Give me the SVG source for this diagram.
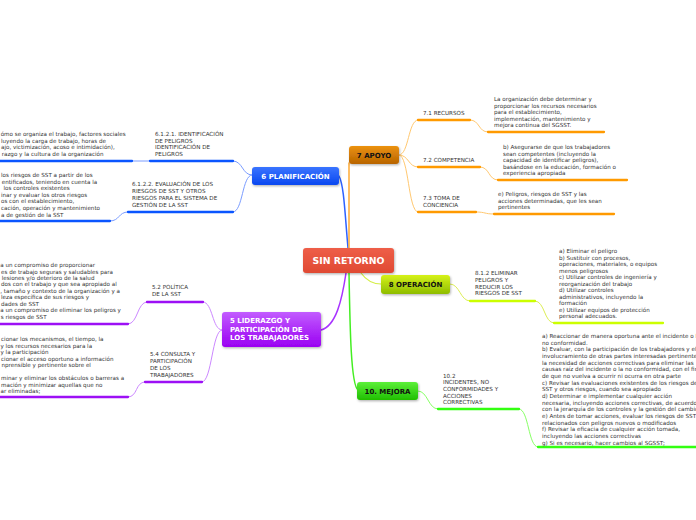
<svg xmlns="http://www.w3.org/2000/svg" width="696" height="520" viewBox="0 0 696 520">
<defs>
<linearGradient id="gRed" x1="0" y1="0" x2="0" y2="1"><stop offset="0" stop-color="#EE5E48"/><stop offset="1" stop-color="#E04A33"/></linearGradient>
<linearGradient id="gOrange" x1="0" y1="0" x2="0" y2="1"><stop offset="0" stop-color="#EC9210"/><stop offset="1" stop-color="#B86400"/></linearGradient>
<linearGradient id="gBlue" x1="0" y1="0" x2="0" y2="1"><stop offset="0" stop-color="#3A74FF"/><stop offset="1" stop-color="#0A47F0"/></linearGradient>
<linearGradient id="gYellow" x1="0" y1="0" x2="0" y2="1"><stop offset="0" stop-color="#D6F21A"/><stop offset="1" stop-color="#8EBC00"/></linearGradient>
<linearGradient id="gPurple" x1="0" y1="0" x2="0" y2="1"><stop offset="0" stop-color="#C25CFF"/><stop offset="1" stop-color="#9A00F2"/></linearGradient>
<linearGradient id="gGreen" x1="0" y1="0" x2="0" y2="1"><stop offset="0" stop-color="#5CF03A"/><stop offset="1" stop-color="#20BE00"/></linearGradient>
<filter id="sh" x="-20%" y="-30%" width="140%" height="170%"><feDropShadow dx="0.8" dy="1.2" stdDeviation="0.8" flood-color="#000" flood-opacity="0.3"/></filter>
</defs>
<style>
.t{font-family:"DejaVu Sans",Verdana,sans-serif;font-size:5.6px;fill:#333}
.nb{font-family:"DejaVu Sans",Verdana,sans-serif;font-weight:bold;font-size:7px}
.w{fill:#fff}.k{fill:#111}
.c{fill:none;stroke-linecap:round}
.ub{stroke:#0A55FF;stroke-width:2.3}.cb{stroke:#7A9CFF;stroke-width:1}
.uo{stroke:#FF9A00;stroke-width:2.3}.co{stroke:#FFC870;stroke-width:1}
.up{stroke:#9D10F5;stroke-width:2.3}.cp{stroke:#CC88FF;stroke-width:1}
.uy{stroke:#CCFF00;stroke-width:2.3}.cy{stroke:#DDEE55;stroke-width:1}
.ug{stroke:#33FF11;stroke-width:2.3}.cg{stroke:#88FF66;stroke-width:1}
</style>
<rect width="696" height="520" fill="#fff"/>

<g id="connectors">
<path class="c" d="M348,248 C345,215 344,185 339,176" stroke="#2E62FF" stroke-width="1.5"/>
<path class="c" d="M349,248 L349,163" stroke="#FFAA33" stroke-width="1.5"/>
<path class="c" d="M346,273 C342,300 336,326 321,330" stroke="#A833FF" stroke-width="1.5"/>
<path class="c" d="M349,273 C350,330 351,385 358,390" stroke="#44EE22" stroke-width="1.5"/>
<path class="c" d="M361,273 C366,280 372,284 381,284" stroke="#D4EE44" stroke-width="1.2"/>

<path class="c co" d="M399,155 C409,155 408,120 418,120"/>
<path class="c co" d="M399,155 C409,155 408,167 418,167"/>
<path class="c co" d="M399,155 C409,155 408,212 418,212"/>
<path class="c co" d="M470,120 C480,120 478,132 488,132"/>
<path class="c co" d="M480,167 C490,167 488,180 498,180"/>
<path class="c co" d="M476,212 C486,212 484,214 494,214"/>

<path class="c cb" d="M252,175 C242,175 243,161 233,161"/>
<path class="c cb" d="M252,175 C242,175 243,212 233,212"/>
<path class="c cb" d="M150,161 L132,161"/>
<path class="c cb" d="M128,212 C118,212 120,221 110,221"/>

<path class="c cp" d="M222,330 C212,330 213,302 203,302"/>
<path class="c cp" d="M222,330 C212,330 212,382 202,382"/>
<path class="c cp" d="M147,302 C137,302 138,324 128,324"/>
<path class="c cp" d="M145,382 C135,382 138,397 128,397"/>

<path class="c cy" d="M450,284 C460,284 460,301 470,301"/>
<path class="c cy" d="M535,301 C545,301 544,323 554,323"/>

<path class="c cg" d="M418,391 C428,391 428,409 438,409"/>
<path class="c cg" d="M519,409 C529,409 528,447 538,447"/>
</g>

<g id="n-root"><rect x="303" y="248" width="91" height="25" rx="3" fill="url(#gRed)" filter="url(#sh)"/>
<text x="348.5" y="264" text-anchor="middle" style="font-family:'DejaVu Sans',Verdana,sans-serif;font-weight:bold;font-size:9.3px;fill:#fff">SIN RETORNO</text></g>

<g id="n-apoyo"><rect x="349" y="146" width="50" height="18" rx="3" fill="url(#gOrange)" filter="url(#sh)"/>
<text class="nb k" x="374" y="157.5" text-anchor="middle">7 APOYO</text></g>

<g id="n-plan"><rect x="252" y="167" width="87" height="18" rx="3" fill="url(#gBlue)" filter="url(#sh)"/>
<text class="nb w" x="295.5" y="178.5" text-anchor="middle">6 PLANIFICACIÓN</text></g>

<g id="n-oper"><rect x="381" y="275" width="69" height="19" rx="3" fill="url(#gYellow)" filter="url(#sh)"/>
<text class="nb k" x="415.5" y="287" text-anchor="middle">8 OPERACIÓN</text></g>

<g id="n-lider"><rect x="222" y="312" width="99" height="35" rx="3" fill="url(#gPurple)" filter="url(#sh)"/>
<text class="nb w" x="230" y="323">5 LIDERAZGO Y</text>
<text class="nb w" x="230" y="331.5">PARTICIPACIÓN DE</text>
<text class="nb w" x="230" y="340">LOS TRABAJADORES</text></g>

<g id="n-mejora"><rect x="357" y="382" width="61" height="18" rx="3" fill="url(#gGreen)" filter="url(#sh)"/>
<text class="nb k" x="387.5" y="394" text-anchor="middle">10. MEJORA</text></g>

<g id="n-71"><path class="c uo" d="M418,120 L470,120"/><text class="t" x="423" y="115">7.1 RECURSOS</text></g>
<g id="n-71t"><path class="c uo" d="M488,132 L604,132"/>
<text class="t" x="494" y="101">La organización debe determinar y</text>
<text class="t" x="494" y="107.5">proporcionar los recursos necesarios</text>
<text class="t" x="494" y="114">para el establecimiento,</text>
<text class="t" x="494" y="120.5">implementación, mantenimiento y</text>
<text class="t" x="494" y="127">mejora continua del SGSST.</text></g>

<g id="n-72"><path class="c uo" d="M418,167 L480,167"/><text class="t" x="423" y="162">7.2 COMPETENCIA</text></g>
<g id="n-72t"><path class="c uo" d="M498,180 L627,180"/>
<text class="t" x="503" y="149">b) Asegurarse de que los trabajadores</text>
<text class="t" x="503" y="155.5">sean competentes (incluyendo la</text>
<text class="t" x="503" y="162">capacidad de identificar peligros),</text>
<text class="t" x="503" y="168.5">basándose en la  educación, formación o</text>
<text class="t" x="503" y="175">experiencia apropiada</text></g>

<g id="n-73"><path class="c uo" d="M418,212 L476,212"/>
<text class="t" x="423" y="200">7.3 TOMA DE</text><text class="t" x="423" y="206.5">CONCIENCIA</text></g>
<g id="n-73t"><path class="c uo" d="M494,214 L614,214"/>
<text class="t" x="498" y="196">e) Peligros, riesgos de SST y las</text>
<text class="t" x="498" y="202.5">acciones determinadas, que les sean</text>
<text class="t" x="498" y="209">pertinentes</text></g>

<g id="n-6121"><path class="c ub" d="M150,161 L233,161"/>
<text class="t" x="155" y="136">6.1.2.1. IDENTIFICACIÓN</text>
<text class="t" x="155" y="142.5">DE PELIGROS</text>
<text class="t" x="155" y="149">IDENTIFICACIÓN DE</text>
<text class="t" x="155" y="155.5">PELIGROS</text></g>
<g id="n-6121t"><path class="c ub" d="M0,161 L132,161"/>
<text class="t" x="0.7" y="136">ómo se organiza el trabajo, factores sociales</text>
<text class="t" x="1" y="142.5">luyendo la carga de trabajo, horas de</text>
<text class="t" x="1" y="149">ajo, victimización, acoso e intimidación),</text>
<text class="t" x="1.7" y="155.5">razgo y la cultura de la organización</text></g>

<g id="n-6122"><path class="c ub" d="M128,212 L233,212"/>
<text class="t" x="132" y="186">6.1.2.2. EVALUACIÓN DE LOS</text>
<text class="t" x="132" y="193">RIESGOS DE SST Y OTROS</text>
<text class="t" x="132" y="200">RIESGOS PARA EL SISTEMA DE</text>
<text class="t" x="132" y="207">GESTIÓN DE LA SST</text></g>
<g id="n-6122t"><path class="c ub" d="M0,221 L110,221"/>
<text class="t" x="1" y="177">los riesgos de SST a partir de los</text>
<text class="t" x="1.7" y="183.6">entificados, teniendo en cuenta la</text>
<text class="t" x="3.5" y="190.2">los controles existentes</text>
<text class="t" x="1" y="196.8">inar y evaluar los otros riesgos</text>
<text class="t" x="1" y="203.4">os con el establecimiento,</text>
<text class="t" x="1" y="210">cación, operación y mantenimiento</text>
<text class="t" x="1" y="216.6">a de gestión de la SST</text></g>

<g id="n-52"><path class="c up" d="M147,302 L203,302"/>
<text class="t" x="152" y="289">5.2 POLÍTICA</text><text class="t" x="152" y="296">DE LA SST</text></g>
<g id="n-52t"><path class="c up" d="M0,324 L128,324"/>
<text class="t" x="0.3" y="267">a un compromiso de proporcionar</text>
<text class="t" x="1" y="273.5">es de trabajo seguras y saludables para</text>
<text class="t" x="1.7" y="279.9">lesiones y/o deterioro de la salud</text>
<text class="t" x="1" y="286.4">dos con el trabajo y que sea apropiado al</text>
<text class="t" x="0.3" y="292.8">, tamaño y contexto de la organización y a</text>
<text class="t" x="1" y="299.3">leza específica de sus riesgos y</text>
<text class="t" x="1" y="305.8">dades de SST</text>
<text class="t" x="0.3" y="312.2">a un compromiso de eliminar los peligros y</text>
<text class="t" x="0.7" y="318.7">s riesgos de SST</text></g>

<g id="n-54"><path class="c up" d="M145,382 L202,382"/>
<text class="t" x="150" y="356.3">5.4 CONSULTA Y</text>
<text class="t" x="150" y="363">PARTICIPACIÓN</text>
<text class="t" x="150" y="369.7">DE LOS</text>
<text class="t" x="150" y="376.7">TRABAJADORES</text></g>
<g id="n-54t"><path class="c up" d="M0,397 L128,397"/>
<text class="t" x="1" y="341">cionar los mecanismos, el tiempo, la</text>
<text class="t" x="0.5" y="347.5">y los recursos necesarios para la</text>
<text class="t" x="0.5" y="354">y la participación</text>
<text class="t" x="1" y="360.5">cionar el acceso oportuno a información</text>
<text class="t" x="1.5" y="367">nprensible y pertinente sobre el</text>
<text class="t" x="1" y="380">minar y eliminar los obstáculos o barreras a</text>
<text class="t" x="1" y="386.5">mación y minimizar aquellas que no</text>
<text class="t" x="0.5" y="393">ar eliminadas;</text></g>

<g id="n-812"><path class="c uy" d="M470,301 L535,301"/>
<text class="t" x="475" y="275.3">8.1.2 ELIMINAR</text>
<text class="t" x="475" y="282">PELIGROS Y</text>
<text class="t" x="475" y="288.7">REDUCIR LOS</text>
<text class="t" x="475" y="295">RIESGOS DE SST</text></g>
<g id="n-812t"><path class="c uy" d="M554,323 L663,323"/>
<text class="t" x="559" y="253">a) Eliminar el peligro</text>
<text class="t" x="559" y="259.5">b) Sustituir con procesos,</text>
<text class="t" x="559" y="266">operaciones, materiales, o equipos</text>
<text class="t" x="559" y="272.5">menos peligrosos</text>
<text class="t" x="559" y="279">c) Utilizar controles de ingeniería y</text>
<text class="t" x="559" y="285.5">reorganización del trabajo</text>
<text class="t" x="559" y="292">d) Utilizar controles</text>
<text class="t" x="559" y="298.5">administrativos, incluyendo la</text>
<text class="t" x="559" y="305">formación</text>
<text class="t" x="559" y="311.5">e) Utilizar equipos de protección</text>
<text class="t" x="559" y="318">personal adecuados.</text></g>

<g id="n-102"><path class="c ug" d="M438,409 L519,409"/>
<text class="t" x="443" y="377.7">10.2</text>
<text class="t" x="443" y="384.3">INCIDENTES, NO</text>
<text class="t" x="443" y="390.9">CONFORMIDADES Y</text>
<text class="t" x="443" y="397.5">ACCIONES</text>
<text class="t" x="443" y="404.1">CORRECTIVAS</text></g>
<g id="n-102t"><path class="c ug" d="M538,447 L696,447"/>
<text class="t" x="542" y="338">a) Reaccionar de manera oportuna ante el incidente o la</text>
<text class="t" x="542" y="344.7">no conformidad.</text>
<text class="t" x="542" y="351.3">b) Evaluar, con la participación de los trabajadores y el</text>
<text class="t" x="542" y="358">involucramiento de otras partes interesadas pertinentes</text>
<text class="t" x="542" y="364.7">la necesidad de acciones correctivas para eliminar las</text>
<text class="t" x="542" y="371.4">causas raíz del incidente o la no conformidad, con el fin</text>
<text class="t" x="542" y="378">de que no vuelva a ocurrir ni ocurra en otra parte</text>
<text class="t" x="542" y="384.7">c) Revisar las evaluaciones existentes de los riesgos de</text>
<text class="t" x="542" y="391.4">SST y otros riesgos, cuando sea apropiado</text>
<text class="t" x="542" y="398">d) Determinar e implementar cualquier acción</text>
<text class="t" x="542" y="404.7">necesaria, incluyendo acciones correctivas, de acuerdo</text>
<text class="t" x="542" y="411.4">con la jerarquía de los controles y la gestión del cambio</text>
<text class="t" x="542" y="418">e) Antes de tomar acciones, evaluar los riesgos de SST</text>
<text class="t" x="542" y="424.7">relacionados con peligros nuevos o modificados</text>
<text class="t" x="542" y="431.4">f) Revisar la eficacia de cualquier acción tomada,</text>
<text class="t" x="542" y="438">incluyendo las acciones correctivas</text>
<text class="t" x="542" y="444.7">g) Si es necesario, hacer cambios al SGSST;</text></g>
</svg>
